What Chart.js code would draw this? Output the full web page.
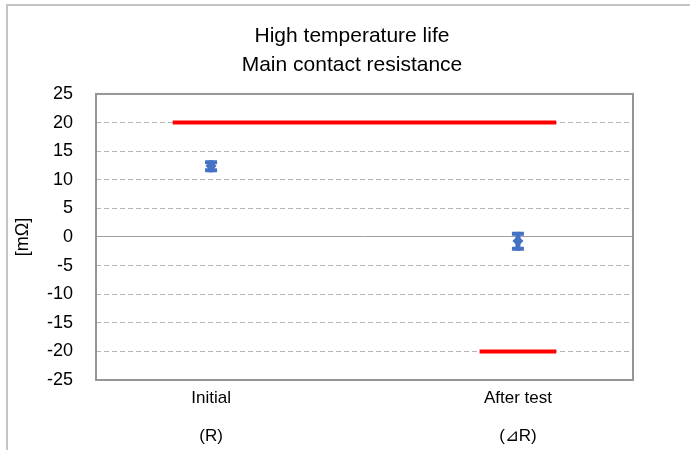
<!DOCTYPE html>
<html>
<head>
<meta charset="utf-8">
<script src="https://cdn.jsdelivr.net/npm/chart.js@4"></script>
<style>
  body { margin: 0; background: #fff; overflow: hidden; }
  #frame { position: absolute; left: 6px; top: 4px; width: 800px; height: 600px; border: 2px solid #c4c4c4; }
  #chart { position: absolute; left: 0; top: 0; }
</style>
</head>
<body>
<div id="frame"></div>
<canvas id="chart" width="690" height="450"></canvas>
<script>
// categories and their positions on the x axis (axis runs 0..7)
var categories = ['Initial', 'After test'];
var subLabels = ['(R)', '(\u22BFR)'];
var catPos = [1.5, 5.5];

// measured values [mOhm]
var means = [12.4, -0.7];
var errHigh = [13.4, 0.9];
var errLow = [11.3, -2.4];

// spec limits
var upperLimitX = [1, 6];
var upperLimit = [20, 20];
var lowerLimitX = [5, 6];
var lowerLimit = [-20, -20];

var yTicks = [25, 20, 15, 10, 5, 0, -5, -10, -15, -20, -25];

var blue = '#4472c4';
var font = "'Liberation Sans', Arial, sans-serif";

function toPoints(xs, ys) {
    var pts = [];
    for (var i = 0; i < xs.length; i++) {
        pts.push({x: xs[i], y: ys[i]});
    }
    return pts;
}

// plot area border
var plotFrame = {
    id: 'plotFrame',
    beforeDatasetsDraw: function(chart) {
        var a = chart.chartArea;
        var c = chart.ctx;
        c.save();
        c.strokeStyle = '#959595';
        c.lineWidth = 2;
        c.strokeRect(a.left, a.top, a.right - a.left, a.bottom - a.top);
        c.restore();
    }
};

// error bars for the measured points
var errorBars = {
    id: 'errorBars',
    beforeDatasetsDraw: function(chart) {
        var xs = chart.scales.x;
        var ys = chart.scales.y;
        var c = chart.ctx;
        c.save();
        c.strokeStyle = blue;
        for (var i = 0; i < means.length; i++) {
            var px = xs.getPixelForValue(catPos[i]);
            var top = ys.getPixelForValue(errHigh[i]);
            var bot = ys.getPixelForValue(errLow[i]);
            c.lineWidth = 5;
            c.beginPath();
            c.moveTo(px, top);
            c.lineTo(px, bot);
            c.stroke();
            c.lineWidth = 4;
            c.beginPath();
            c.moveTo(px - 6, top + 2);
            c.lineTo(px + 6, top + 2);
            c.moveTo(px - 6, bot - 2);
            c.lineTo(px + 6, bot - 2);
            c.stroke();
        }
        c.restore();
    }
};

var ctx = document.getElementById('chart');
var chart = new Chart(ctx, {
    type: 'scatter',
    data: {
        datasets: [
            {
                type: 'line',
                data: toPoints(upperLimitX, upperLimit),
                borderColor: '#ff0000',
                borderWidth: 4,
                pointRadius: 0,
                fill: false
            },
            {
                type: 'line',
                data: toPoints(lowerLimitX, lowerLimit),
                borderColor: '#ff0000',
                borderWidth: 4,
                pointRadius: 0,
                fill: false
            },
            {
                data: toPoints(catPos, means),
                backgroundColor: blue,
                borderColor: blue,
                pointStyle: 'rectRot',
                pointRadius: 5.5,
                borderWidth: 0
            }
        ]
    },
    options: {
        responsive: false,
        animation: false,
        layout: { padding: { left: 14, right: 0, top: 0, bottom: 0 } },
        plugins: {
            legend: { display: false },
            tooltip: { enabled: false },
            title: {
                display: true,
                text: ['High temperature life', 'Main contact resistance'],
                color: '#000',
                font: { family: font, size: 21, weight: 'normal', lineHeight: 1.38 },
                padding: { top: 22, bottom: 14 }
            }
        },
        scales: {
            x: {
                type: 'linear',
                min: 0,
                max: 7,
                afterBuildTicks: function(scale) {
                    scale.ticks = catPos.map(function(v) { return {value: v}; });
                },
                afterFit: function(scale) { scale.height = 70; },
                grid: { display: false, drawTicks: false },
                border: { display: false },
                ticks: {
                    color: '#000',
                    padding: 0,
                    maxRotation: 0,
                    font: { family: font, size: 17, lineHeight: 2.2 },
                    callback: function(v) {
                        var i = catPos.indexOf(v);
                        return i < 0 ? '' : [categories[i], subLabels[i]];
                    }
                }
            },
            y: {
                position: 'left',
                min: -25,
                max: 25,
                afterBuildTicks: function(scale) {
                    scale.ticks = yTicks.map(function(v) { return {value: v}; });
                },
                afterFit: function(scale) { scale.width = 82; },
                grid: {
                    drawTicks: false,
                    color: function(c) { return c.tick && c.tick.value === 0 ? '#a0a0a0' : '#b4b4b4'; },
                    lineWidth: 1
                },
                border: {
                    display: false,
                    dash: function(c) { return c.tick && c.tick.value === 0 ? [] : [5, 3]; }
                },
                ticks: {
                    color: '#000',
                    padding: 23,
                    font: { family: font, size: 18 }
                },
                title: {
                    display: true,
                    text: '[m\u03A9]',
                    color: '#000',
                    font: { family: font, size: 18, lineHeight: 1 },
                    padding: 0
                }
            },
            y2: {
                position: 'right',
                afterFit: function(scale) { scale.width = 57; },
                grid: { display: false, drawTicks: false },
                border: { display: false },
                ticks: { display: false }
            }
        }
    },
    plugins: [plotFrame, errorBars]
});
</script>
</body>
</html>
